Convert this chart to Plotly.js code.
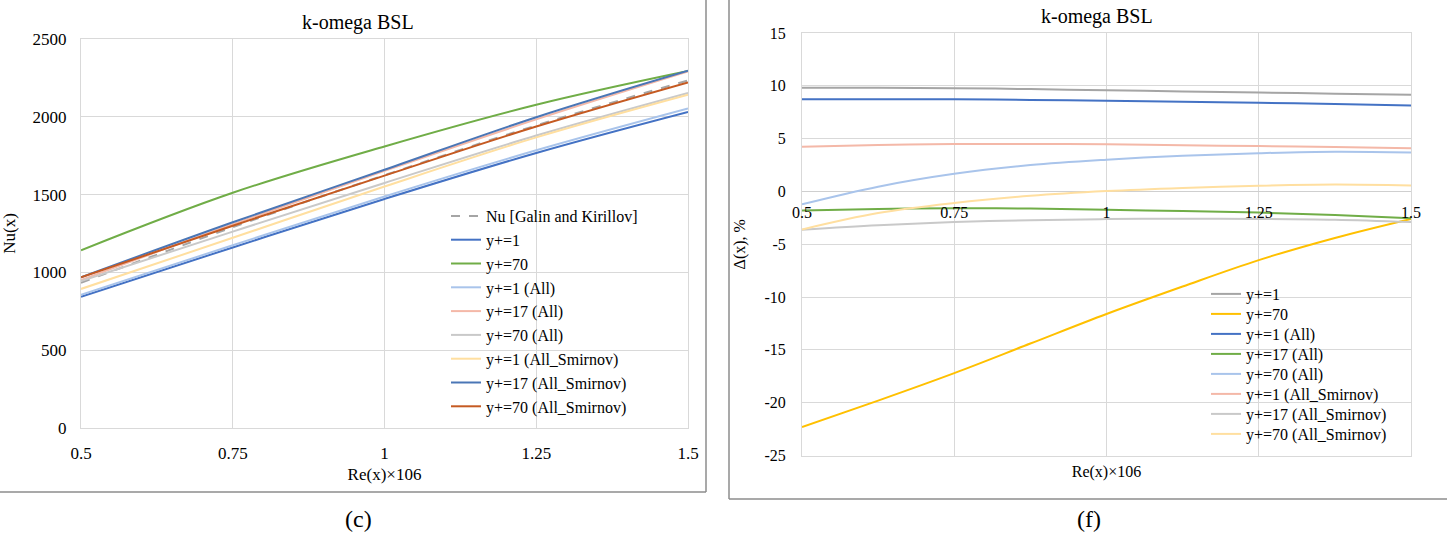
<!DOCTYPE html>
<html>
<head>
<meta charset="utf-8">
<script src="https://cdn.plot.ly/plotly-3.0.1.min.js"></script>
<style>
  html, body { margin: 0; padding: 0; background: #fff; }
  #myDiv { width: 1447px; height: 541px; }
</style>
</head>
<body>
<div id="myDiv"></div>
<script>
// ---- data ----
// (c) Nu(x) against Re(x)x10^6
var reNu = [0.5, 0.75, 1, 1.25, 1.5];
var nuGalin   = [933, 1290, 1625, 1945, 2235];
var nuY1      = [843, 1160, 1472, 1768, 2032];
var nuY70     = [1142, 1512, 1810, 2078, 2295];
var nuY1All   = [856, 1174, 1488, 1785, 2054];
var nuY17All  = [950, 1310, 1653, 1984, 2292];
var nuY70All  = [944, 1262, 1575, 1880, 2154];
var nuY1Smir  = [893, 1222, 1552, 1868, 2143];
var nuY17Smir = [968, 1322, 1660, 1998, 2297];
var nuY70Smir = [968, 1300, 1622, 1938, 2222];

// (f) deviation, %
var reDev = [0.5, 0.625, 0.75, 0.875, 1, 1.125, 1.25, 1.375, 1.5];
var dY1      = [9.82, 9.81, 9.78, 9.69, 9.58, 9.47, 9.36, 9.26, 9.15];
var dY70     = [-22.3, -19.8, -17.2, -14.4, -11.6, -9.0, -6.5, -4.4, -2.6];
var dY1All   = [8.72, 8.73, 8.72, 8.66, 8.59, 8.5, 8.4, 8.28, 8.14];
var dY17All  = [-1.8, -1.66, -1.58, -1.62, -1.74, -1.86, -2.0, -2.24, -2.53];
var dY70All  = [-1.22, 0.45, 1.67, 2.5, 3.01, 3.38, 3.62, 3.76, 3.69];
var dY1Smir  = [4.23, 4.4, 4.49, 4.5, 4.46, 4.38, 4.29, 4.2, 4.1];
var dY17Smir = [-3.62, -3.2, -2.9, -2.72, -2.62, -2.58, -2.6, -2.68, -2.9];
var dY70Smir = [-3.6, -2.05, -1.1, -0.42, 0.03, 0.33, 0.54, 0.65, 0.56];

var xTickVals = [0.5, 0.75, 1, 1.25, 1.5];
var xTickText = ['0.5', '0.75', '1', '1.25', '1.5'];
var dTickVals = [15, 10, 5, 0, -5, -10, -15, -20, -25];
var dTickText = ['15', '10', '5', '0', '-5', '-10', '-15', '-20', '-25'];

// ---- helpers: pixel -> paper fraction (margins are 0) ----
var W = 1447, H = 541;
function px(x) { return x / W; }
function py(y) { return 1 - y / H; }

var FAM = 'Liberation Serif';
function f(size) { return {family: FAM, size: size, color: '#000'}; }

function line(x, y, name, color, ax, legend, dash) {
    return {
        x: x,
        y: y,
        name: name,
        type: 'scatter',
        mode: 'lines',
        line: {color: color, width: 2, shape: 'spline', dash: dash || 'solid'},
        xaxis: ax[0],
        yaxis: ax[1],
        legend: legend,
        hoverinfo: 'skip'
    };
}

var L = ['x', 'y'];
var R = ['x2', 'y2'];

var data = [
    line(reNu, nuGalin, 'Nu [Galin and Kirillov]', '#A5A5A5', L, 'legend', 'dash'),
    line(reNu, nuY1, 'y+=1', '#4472C4', L, 'legend'),
    line(reNu, nuY70, 'y+=70', '#70AD47', L, 'legend'),
    line(reNu, nuY1All, 'y+=1 (All)', '#A9C4EB', L, 'legend'),
    line(reNu, nuY17All, 'y+=17 (All)', '#F4B8A8', L, 'legend'),
    line(reNu, nuY70All, 'y+=70 (All)', '#C9C9C9', L, 'legend'),
    line(reNu, nuY1Smir, 'y+=1 (All_Smirnov)', '#FFDFA0', L, 'legend'),
    line(reNu, nuY17Smir, 'y+=17 (All_Smirnov)', '#4A76B6', L, 'legend'),
    line(reNu, nuY70Smir, 'y+=70 (All_Smirnov)', '#C55A22', L, 'legend'),

    // right-hand legend is split, one entry per legend, to get the tight row pitch
    line(reDev, dY1, 'y+=1', '#A5A5A5', R, 'legend2'),
    line(reDev, dY70, 'y+=70', '#FFC000', R, 'legend3'),
    line(reDev, dY1All, 'y+=1 (All)', '#4472C4', R, 'legend4'),
    line(reDev, dY17All, 'y+=17 (All)', '#70AD47', R, 'legend5'),
    line(reDev, dY70All, 'y+=70 (All)', '#A9C4EB', R, 'legend6'),
    line(reDev, dY1Smir, 'y+=1 (All_Smirnov)', '#F4B8A8', R, 'legend7'),
    line(reDev, dY17Smir, 'y+=17 (All_Smirnov)', '#C9C9C9', R, 'legend8'),
    line(reDev, dY70Smir, 'y+=70 (All_Smirnov)', '#FFDFA0', R, 'legend9'),
    // empty trace so the tick-label axis at y=0 gets drawn
    {x: [], y: [], type: 'scatter', mode: 'lines', xaxis: 'x3', yaxis: 'y2', showlegend: false, hoverinfo: 'skip'}
];

var grid = '#D9D9D9';
var clear = 'rgba(0,0,0,0)';

var layout = {
    width: W,
    height: H,
    margin: {l: 0, r: 0, t: 0, b: 0},
    paper_bgcolor: '#fff',
    plot_bgcolor: '#fff',
    font: f(17),
    xaxis: {
        domain: [px(81), px(688)],
        anchor: 'y',
        range: [0.5, 1.5],
        tickvals: xTickVals,
        ticktext: xTickText,
        showgrid: true, gridcolor: grid,
        zeroline: false,
        showline: true, linecolor: grid, mirror: true,
        ticks: 'outside', ticklen: 10, tickcolor: clear,
        tickfont: f(17),
        title: {text: 'Re(x)×106', font: f(17), standoff: 6}
    },
    yaxis: {
        domain: [py(427.7), py(39.2)],
        anchor: 'x',
        range: [0, 2500],
        dtick: 500,
        showgrid: true, gridcolor: grid,
        zeroline: false,
        showline: true, linecolor: grid, mirror: true,
        ticks: 'outside', ticklen: 10, tickcolor: clear,
        tickfont: f(17),
        title: {text: 'Nu(x)', font: f(17), standoff: 14}
    },
    xaxis2: {
        domain: [px(802), px(1411)],
        anchor: 'y2',
        range: [0.5, 1.5],
        tickvals: xTickVals,
        showticklabels: false,
        ticks: '',
        showgrid: true, gridcolor: grid,
        zeroline: false,
        showline: true, linecolor: grid, mirror: true,
        title: {text: 'Re(x)×106', font: f(16), standoff: 10}
    },
    xaxis3: {
        domain: [px(802), px(1411)],
        overlaying: 'x2',
        anchor: 'free',
        position: py(191.5),
        range: [0.5, 1.5],
        tickvals: xTickVals,
        ticktext: xTickText,
        showgrid: false,
        zeroline: false,
        showline: false,
        ticks: 'outside', ticklen: 6, tickcolor: clear,
        tickfont: f(16)
    },
    yaxis2: {
        domain: [py(455.5), py(33)],
        anchor: 'x2',
        range: [-25, 15],
        tickvals: dTickVals,
        ticktext: dTickText,
        showgrid: true, gridcolor: grid,
        zeroline: true, zerolinecolor: '#CFCFCF', zerolinewidth: 1.5,
        showline: true, linecolor: grid, mirror: true,
        ticks: 'outside', ticklen: 12, tickcolor: clear,
        tickfont: f(16),
        title: {text: 'Δ(x), %', font: f(16), standoff: 14}
    },
    legend: {
        x: px(446), y: py(199), xanchor: 'left', yanchor: 'top',
        bgcolor: clear, borderwidth: 0,
        font: f(16),
        tracegroupgap: 0
    },
    annotations: [
        {text: 'k-omega BSL', xref: 'paper', yref: 'paper', x: px(358), y: py(23), xanchor: 'center', yanchor: 'middle', showarrow: false, font: f(20)},
        {text: 'k-omega BSL', xref: 'paper', yref: 'paper', x: px(1097), y: py(16), xanchor: 'center', yanchor: 'middle', showarrow: false, font: f(20)},
        {text: '(c)', xref: 'paper', yref: 'paper', x: px(358), y: py(519), xanchor: 'center', yanchor: 'middle', showarrow: false, font: f(24)},
        {text: '(f)', xref: 'paper', yref: 'paper', x: px(1089), y: py(519), xanchor: 'center', yanchor: 'middle', showarrow: false, font: f(24)}
    ],
    shapes: [
        {type: 'line', xref: 'paper', yref: 'paper', x0: px(706), x1: px(706), y0: 1, y1: py(492), line: {color: '#8C8C8C', width: 1.5}},
        {type: 'line', xref: 'paper', yref: 'paper', x0: 0, x1: px(706), y0: py(492), y1: py(492), line: {color: '#8C8C8C', width: 1.5}},
        {type: 'line', xref: 'paper', yref: 'paper', x0: px(729), x1: px(729), y0: 1, y1: py(499), line: {color: '#8C8C8C', width: 1.5}},
        {type: 'line', xref: 'paper', yref: 'paper', x0: px(729), x1: 1, y0: py(499), y1: py(499), line: {color: '#8C8C8C', width: 1.5}}
    ]
};

// one small legend per right-hand entry, rows 20 px apart
for (var i = 0; i < 8; i++) {
    layout['legend' + (i + 2)] = {
        x: px(1206), y: py(294 + 20 * i), xanchor: 'left', yanchor: 'middle',
        bgcolor: clear, borderwidth: 0,
        font: f(16)
    };
}

var config = {
    displayModeBar: false,
    responsive: false,
    staticPlot: true
};

Plotly.newPlot('myDiv', data, layout, config);
</script>
</body>
</html>
